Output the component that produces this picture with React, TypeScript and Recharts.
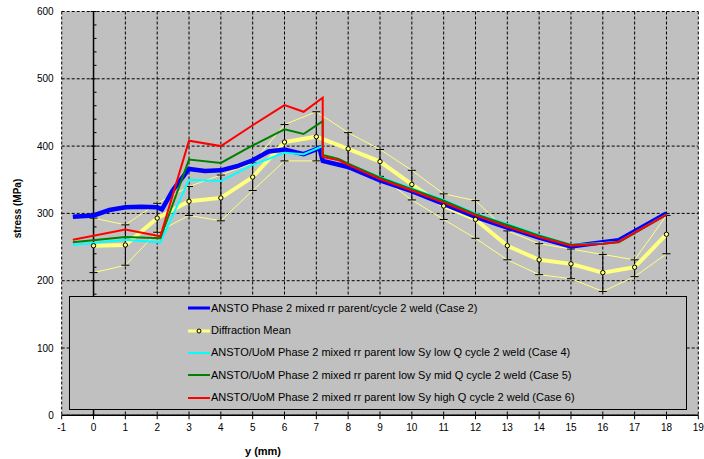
import React from 'react';
import { LineChart, Line, XAxis, YAxis, CartesianGrid, ReferenceLine, ErrorBar, Legend } from 'recharts';

// ---- axis ticks ----
const xTicks = [-1, 0, 1, 2, 3, 4, 5, 6, 7, 8, 9, 10, 11, 12, 13, 14, 15, 16, 17, 18, 19];
const xMinorTicks = [-1, -0.5, 0, 0.5, 1, 1.5, 2, 2.5, 3, 3.5, 4, 4.5, 5, 5.5, 6, 6.5, 7, 7.5, 8, 8.5, 9, 9.5, 10, 10.5, 11, 11.5, 12, 12.5, 13, 13.5, 14, 14.5, 15, 15.5, 16, 16.5, 17, 17.5, 18, 18.5, 19];
const yTicks = [0, 100, 200, 300, 400, 500, 600];

// ---- ANSTO Case 2 (blue) ----
const case2X = [-0.65, 0, 0.5, 1, 1.5, 2, 2.15, 2.5, 3, 3.5, 4, 4.5, 5, 5.5, 6, 6.6, 7.1, 7.2, 8, 9, 10, 11, 12, 13, 14, 15, 16, 16.5, 18];
const case2Y = [295, 297, 305, 309, 310, 309, 306, 335, 366, 363, 364, 370, 379, 392, 395, 388, 397, 378, 369, 349, 333, 314, 295, 279, 264, 251, 257, 260, 300];

// ---- ANSTO/UoM cases 4,5,6 ----
const modelX = [-0.65, 1, 2.1, 3, 4, 5, 6, 6.6, 7.2, 7.2, 7.7, 8, 9, 10, 11, 12, 13, 14, 15, 16, 16.5, 18];
const case4Y = [253, 261, 257, 350, 348, 372, 390, 388, 400, 386, 380, 374, 354, 337, 320, 300, 284, 268, 253, 256, 258, 298];
const case5Y = [257, 265, 263, 380, 375, 401, 425, 418, 437, 387, 381, 374, 353, 336, 319, 299, 283, 267, 253, 255, 257, 298];
const case6Y = [261, 276, 266, 408, 400, 431, 461, 451, 472, 384, 379, 372, 351, 334, 316, 297, 280, 265, 252, 255, 258, 298];

// ---- Diffraction ----
const diffX = [0, 1, 2, 3, 4, 5, 6, 7, 8, 9, 10, 11, 12, 13, 14, 15, 16, 17, 18];
const diffMean = [252, 253, 293, 318, 323, 354, 406, 414, 396, 377, 343, 311, 291, 252, 231, 225, 212, 220, 269];
const diffUpper = [293, 283, 315, 340, 357, 375, 432, 451, 420, 395, 364, 329, 319, 274, 255, 247, 239, 231, 297];
const diffLower = [212, 223, 272, 297, 289, 334, 378, 378, 370, 355, 320, 291, 263, 231, 209, 203, 184, 206, 240];

const legendLabels = [
  'ANSTO Phase 2 mixed rr parent/cycle 2 weld (Case 2)',
  'Diffraction Mean',
  'ANSTO/UoM Phase 2 mixed rr parent low Sy low Q cycle 2 weld (Case 4)',
  'ANSTO/UoM Phase 2 mixed rr parent low Sy mid Q cycle 2 weld (Case 5)',
  'ANSTO/UoM Phase 2 mixed rr parent low Sy high Q cycle 2 weld (Case 6)',
];
const legendColors = ['#0000FF', '#FFFF80', '#00FFFF', '#008000', '#FF0000'];

const case2Data = case2X.map((x, i) => ({ x, v: case2Y[i] }));
const modelData = modelX.map((x, i) => ({ x, c4: case4Y[i], c5: case5Y[i], c6: case6Y[i] }));
const diffData = diffX.map((x, i) => ({
  x,
  mean: diffMean[i],
  upper: diffUpper[i],
  lower: diffLower[i],
  err: [diffMean[i] - diffLower[i], diffUpper[i] - diffMean[i]],
}));

const FONT = '"Liberation Sans", Arial, sans-serif';

const yAxisAtZero = (p: any) => {
  const { x1, y1, y2 } = p;
  const top = Math.min(y1, y2);
  const bottom = Math.max(y1, y2);
  const marks: any[] = [];
  for (let i = 0; i <= 30; i++) {
    const yy = bottom - ((bottom - top) * i) / 30;
    const major = i % 5 === 0;
    marks.push(
      <line key={i} x1={major ? x1 - 3 : x1} x2={x1 + 3} y1={yy} y2={yy} stroke="#000" strokeWidth={1} />
    );
  }
  return (
    <g>
      <line x1={x1} x2={x1} y1={top} y2={bottom} stroke="#000" strokeWidth={1.5} />
      {marks}
    </g>
  );
};

const LegendBox = () => (
  <div
    style={{
      boxSizing: 'border-box',
      width: 618,
      height: 114,
      border: '1px solid #000',
      background: '#C0C0C0',
      fontFamily: FONT,
      fontSize: 11,
      color: '#000',
    }}
  >
    {legendLabels.map((lab, i) => (
      <div key={i} style={{ height: 22.4, display: 'flex', alignItems: 'center', paddingLeft: 118 }}>
        <svg width={22} height={8} style={{ display: 'block' }}>
          <line x1={0} x2={22} y1={4} y2={4} stroke={legendColors[i]} strokeWidth={i === 0 ? 3 : i === 1 ? 3 : 2} />
          {i === 1 ? <circle cx={11} cy={4} r={2} fill="#FFFF80" stroke="#000" strokeWidth={1} /> : null}
        </svg>
        <span style={{ marginLeft: 1, whiteSpace: 'nowrap', lineHeight: '13px' }}>{lab}</span>
      </div>
    ))}
  </div>
);

export default function App() {
  return (
    <div style={{ position: 'absolute', left: 8, top: 0, width: 696, height: 459, fontFamily: FONT, overflow: 'hidden' }}>
      <LineChart width={696} height={459} margin={{ top: 11.5, right: 5.7, bottom: 13.7, left: 0 }}>
        <CartesianGrid stroke="#000" strokeDasharray="3 2" fill="#C0C0C0" fillOpacity={1} />
        <XAxis
          xAxisId="minor"
          type="number"
          dataKey="x"
          domain={[-1, 19]}
          ticks={xMinorTicks}
          interval={0}
          height={0}
          mirror
          tickSize={3}
          axisLine={false}
          tickLine={{ stroke: '#000' }}
          tickFormatter={() => ''}
        />
        <XAxis
          type="number"
          dataKey="x"
          domain={[-1, 19]}
          ticks={xTicks}
          interval={0}
          height={30}
          tickSize={4}
          tickMargin={5}
          axisLine={{ stroke: '#000', strokeWidth: 1.5 }}
          tickLine={{ stroke: '#000' }}
          tick={{ fontSize: 10, fill: '#000' }}
        />
        <YAxis
          type="number"
          domain={[0, 600]}
          ticks={yTicks}
          interval={0}
          width={53.7}
          axisLine={false}
          tickLine={false}
          tickSize={0}
          tickMargin={8}
          tick={{ fontSize: 10, fill: '#000' }}
        />
        <ReferenceLine x={0} shape={yAxisAtZero} />
        <Line data={diffData} dataKey="upper" stroke="#FFFF80" strokeWidth={1} dot={false} isAnimationActive={false} />
        <Line data={diffData} dataKey="lower" stroke="#FFFF80" strokeWidth={1} dot={false} isAnimationActive={false} />
        <Line
          data={diffData}
          dataKey="mean"
          stroke="#FFFF80"
          strokeWidth={4}
          dot={{ r: 2.2, fill: '#FFFF80', stroke: '#000', strokeWidth: 1 }}
          isAnimationActive={false}
        >
          <ErrorBar dataKey="err" direction="y" width={4} stroke="#000" strokeWidth={1} />
        </Line>
        <Line data={case2Data} dataKey="v" stroke="#0000FF" strokeWidth={4.5} dot={false} isAnimationActive={false} />
        <Line data={modelData} dataKey="c4" stroke="#00FFFF" strokeWidth={2} dot={false} isAnimationActive={false} />
        <Line data={modelData} dataKey="c5" stroke="#008000" strokeWidth={2} dot={false} isAnimationActive={false} />
        <Line data={modelData} dataKey="c6" stroke="#FF0000" strokeWidth={2} dot={false} isAnimationActive={false} />
        <Legend
          layout="vertical"
          align="center"
          verticalAlign="middle"
          content={() => <LegendBox />}
          wrapperStyle={{ position: 'absolute', left: 61, top: 296, width: 618, height: 114, margin: 0 }}
        />
      </LineChart>
      <div
        style={{
          position: 'absolute',
          left: 205,
          width: 100,
          top: 445,
          textAlign: 'center',
          fontWeight: 'bold',
          fontSize: 11,
          lineHeight: '13px',
          color: '#000',
        }}
      >
        y (mm)
      </div>
      <div
        style={{
          position: 'absolute',
          left: 9 - 50,
          top: 208 - 6.5,
          width: 100,
          textAlign: 'center',
          fontWeight: 'bold',
          fontSize: 10,
          lineHeight: '13px',
          color: '#000',
          transform: 'rotate(-90deg)',
        }}
      >
        stress (MPa)
      </div>
    </div>
  );
}
